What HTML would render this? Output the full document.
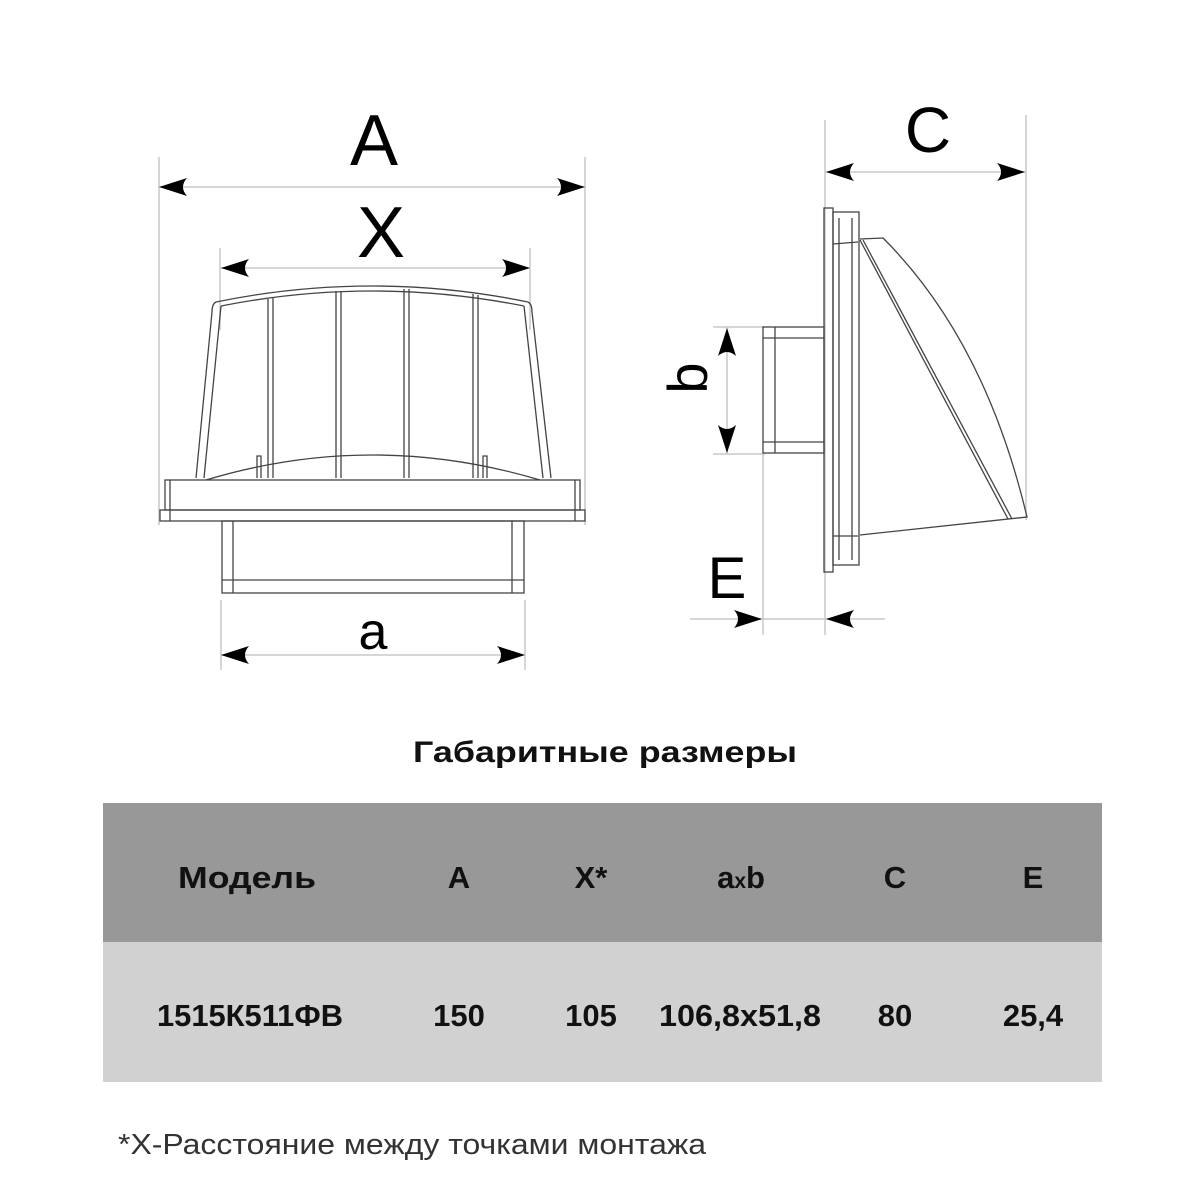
<!DOCTYPE html>
<html><head><meta charset="utf-8"><style>
html,body{margin:0;padding:0;background:#fff;}
svg{display:block}
</style></head><body>
<svg width="1200" height="1200" viewBox="0 0 1200 1200" xmlns="http://www.w3.org/2000/svg">
<defs>
<path id="ar" d="M0 0 L28 -9 Q20 0 28 9 Z" fill="#000"/>
</defs>
<g stroke="#c8c8c8" stroke-width="1.5" fill="none">
<line x1="159" y1="157" x2="159" y2="525"/>
<line x1="585" y1="157" x2="585" y2="525"/>
<line x1="220" y1="248" x2="220" y2="330"/>
<line x1="530" y1="248" x2="530" y2="330"/>
<line x1="159" y1="187" x2="585" y2="187"/>
<line x1="220" y1="268" x2="530" y2="268"/>
<line x1="221" y1="600" x2="221" y2="670"/>
<line x1="525" y1="600" x2="525" y2="670"/>
<line x1="221" y1="655" x2="525" y2="655"/>
<line x1="825" y1="120" x2="825" y2="635"/>
<line x1="1026" y1="115" x2="1026" y2="520"/>
<line x1="825" y1="172" x2="1026" y2="172"/>
<line x1="713" y1="327" x2="765" y2="327"/>
<line x1="713" y1="454" x2="765" y2="454"/>
<line x1="727" y1="327" x2="727" y2="454"/>
<line x1="763" y1="454" x2="763" y2="635"/>
<line x1="690" y1="619" x2="885" y2="619"/>
</g>
<use href="#ar" transform="translate(159,187)"/>
<use href="#ar" transform="translate(585,187) rotate(180)"/>
<use href="#ar" transform="translate(221,268)"/>
<use href="#ar" transform="translate(530,268) rotate(180)"/>
<use href="#ar" transform="translate(221,655)"/>
<use href="#ar" transform="translate(525,655) rotate(180)"/>
<use href="#ar" transform="translate(826,172)"/>
<use href="#ar" transform="translate(1025,172) rotate(180)"/>
<use href="#ar" transform="translate(727,328) rotate(90)"/>
<use href="#ar" transform="translate(727,453) rotate(-90)"/>
<use href="#ar" transform="translate(762,619) rotate(180)"/>
<use href="#ar" transform="translate(826,619)"/>
<g font-family="Liberation Sans, sans-serif" fill="#000">
<text x="374" y="165" font-size="72" text-anchor="middle">A</text>
<text x="381" y="257" font-size="72" text-anchor="middle">X</text>
<text x="373" y="649" font-size="52" text-anchor="middle">a</text>
<text x="928" y="152" font-size="64" text-anchor="middle">C</text>
<text x="727" y="598" font-size="58" text-anchor="middle">E</text>
<text transform="translate(707,378) rotate(-90)" font-size="56" text-anchor="middle">b</text>
</g>
<g stroke="#444" stroke-width="1.3" fill="none">
<path d="M216 302 Q372 270 528 302"/>
<path d="M221 306 Q372 276 524 306"/>
<path d="M216 302 Q212 304 212 312 L196 478"/>
<path d="M221 306 L204 478"/>
<path d="M528 302 Q532 304 532 312 L551 478"/>
<path d="M524 306 L543 478"/>
<path d="M206 480 Q372 430 540 480"/>
<line x1="268" y1="299" x2="268" y2="478"/><line x1="273" y1="298" x2="273" y2="478"/>
<line x1="336" y1="291" x2="336" y2="478"/><line x1="341" y1="291" x2="341" y2="478"/>
<line x1="404" y1="289" x2="404" y2="478"/><line x1="409" y1="289" x2="409" y2="478"/>
<line x1="473" y1="294" x2="473" y2="478"/><line x1="478" y1="295" x2="478" y2="478"/>
<path d="M257 478 L257 456 L261 456 L261 478"/>
<path d="M483 478 L483 456 L487 456 L487 478"/>
<rect x="165" y="480" width="415" height="30"/>
<rect x="160" y="510" width="425" height="11"/>
<line x1="170" y1="480" x2="170" y2="521"/><line x1="575" y1="480" x2="575" y2="521"/>
<rect x="222" y="521" width="302" height="72"/>
<line x1="233" y1="521" x2="233" y2="593"/><line x1="512" y1="521" x2="512" y2="593"/>
<line x1="222" y1="580" x2="524" y2="580"/>
</g>
<g stroke="#444" stroke-width="1.3" fill="none">
<rect x="824" y="208" width="9" height="364"/>
<rect x="833" y="212" width="26" height="353"/>
<line x1="839" y1="218" x2="839" y2="560"/>
<line x1="852" y1="218" x2="852" y2="560"/>
<line x1="833" y1="244" x2="858" y2="242"/>
<line x1="833" y1="536" x2="858" y2="536"/>
<path d="M860 239 L883 238 Q985 340 1027 517 L860 535"/>
<line x1="860" y1="240" x2="1008" y2="519"/>
<line x1="863" y1="240" x2="1012" y2="519"/>
<rect x="763" y="327" width="61" height="126"/>
<line x1="775" y1="327" x2="775" y2="453"/>
<line x1="763" y1="338" x2="824" y2="338"/>
<line x1="763" y1="442" x2="824" y2="442"/>
</g>
<g font-family="Liberation Sans, 'DejaVu Sans', sans-serif" font-weight="bold" fill="#111">
<text x="413" y="762" font-size="30" textLength="384" lengthAdjust="spacingAndGlyphs">Габаритные размеры</text>
<rect x="103" y="803" width="999" height="139" fill="#989898"/>
<rect x="103" y="942" width="999" height="140" fill="#d1d1d1"/>
<g font-size="31">
<text x="178" y="888" textLength="138" lengthAdjust="spacingAndGlyphs">Модель</text>
<text x="459" y="888" text-anchor="middle">A</text>
<text x="591" y="888" text-anchor="middle">X*</text>
<text x="741" y="888" text-anchor="middle">a<tspan font-size="21">x</tspan>b</text>
<text x="895" y="888" text-anchor="middle">C</text>
<text x="1033" y="888" text-anchor="middle">E</text>
<text x="157" y="1026" textLength="186" lengthAdjust="spacingAndGlyphs">1515К511ФВ</text>
<text x="459" y="1026" text-anchor="middle">150</text>
<text x="591" y="1026" text-anchor="middle">105</text>
<text x="659" y="1026" textLength="162" lengthAdjust="spacingAndGlyphs">106,8x51,8</text>
<text x="895" y="1026" text-anchor="middle">80</text>
<text x="1033" y="1026" text-anchor="middle">25,4</text>
</g>
</g>
<text x="118" y="1154" font-family="Liberation Sans, sans-serif" font-size="29" fill="#333" textLength="588" lengthAdjust="spacingAndGlyphs">*X-Расстояние между точками монтажа</text>
</svg>
</body></html>
